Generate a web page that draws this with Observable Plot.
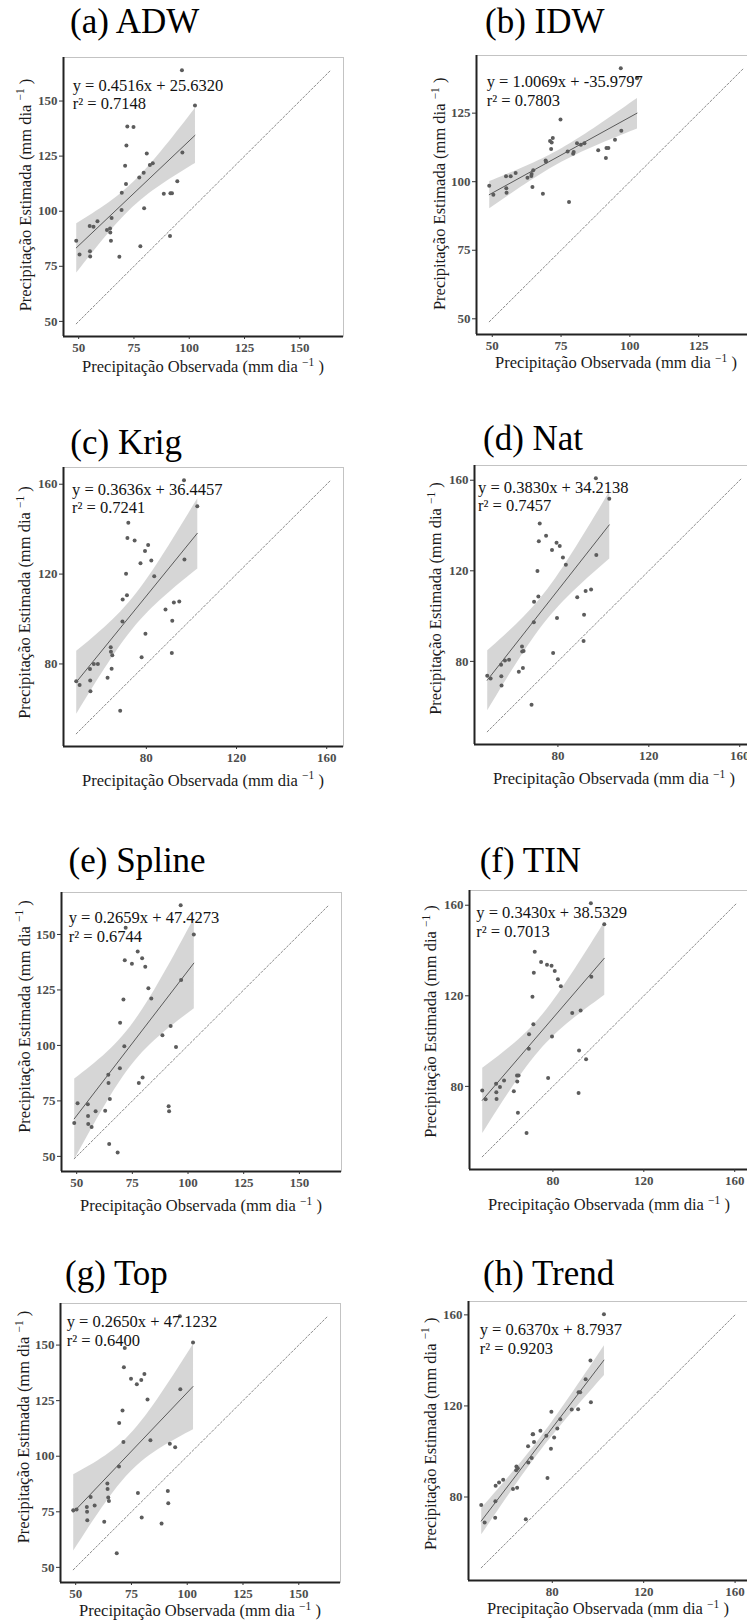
<!DOCTYPE html>
<html><head><meta charset="utf-8">
<script src="https://cdn.jsdelivr.net/npm/d3@7"></script>
<script src="https://cdn.jsdelivr.net/npm/@observablehq/plot@0.6"></script>
<style>
html,body{margin:0;padding:0;background:#fff;}
#wrap{position:relative;width:747px;height:1624px;overflow:hidden;background:#fff;}
.panel{position:absolute;}
.panel svg{overflow:visible;max-width:none;font-family:"Liberation Serif","Times New Roman",serif;}
.panel svg g[aria-label="x-axis tick label"],
.panel svg g[aria-label="y-axis tick label"]{font-size:13px;font-weight:bold;font-family:"Liberation Serif","Times New Roman",serif;}
.panel svg text.ann{font-family:"Liberation Serif","Times New Roman",serif;text-anchor:start;white-space:pre;}
.panel svg text.lab{font-family:"Liberation Serif","Times New Roman",serif;text-anchor:middle;white-space:pre;}
</style></head><body><div id="wrap"></div>
<script>
// Observed precipitation (shared by all panels)
const obs = [48.9, 50.4, 55.0, 55.1, 55.2, 56.7, 58.5, 62.8, 64.2, 64.3, 64.6, 64.9, 68.4, 69.4, 69.5, 71.0, 71.4, 71.6, 72.0, 74.8, 77.4, 77.9, 79.4, 79.6, 80.8, 82.2, 83.5, 88.5, 91.3, 91.5, 92.2, 94.6, 96.7, 96.9, 102.6];
// Estimated precipitation per method
const estADW = [86.6, 80.3, 93.3, 81.8, 79.4, 93.0, 95.4, 91.5, 92.1, 90.3, 86.6, 96.9, 79.3, 100.5, 108.4, 120.6, 112.4, 129.8, 138.4, 138.2, 115.3, 84.1, 117.4, 101.3, 126.2, 121.0, 121.8, 107.9, 88.8, 108.1, 108.1, 113.6, 164.0, 126.6, 148.0];
const estIDW = [98.5, 95.2, 102.0, 97.6, 96.0, 102.0, 103.2, 101.4, 102.1, 102.8, 98.1, 104.2, 95.6, 107.7, 107.3, 114.8, 111.9, 114.3, 115.9, 122.7, 111.0, 92.6, 110.2, 110.8, 114.0, 113.5, 114.0, 111.5, 108.6, 112.3, 112.3, 115.3, 141.4, 118.6, 137.7];
const estKrig = [72.3, 70.6, 77.8, 72.6, 67.8, 80.0, 80.0, 73.9, 87.4, 85.4, 77.9, 83.9, 59.2, 98.9, 108.7, 120.1, 110.6, 136.1, 142.8, 134.9, 124.8, 83.0, 130.3, 93.4, 132.9, 126.0, 119.0, 104.2, 84.9, 99.2, 107.4, 107.8, 161.8, 126.5, 150.2];
const estNat = [73.7, 72.4, 78.5, 73.4, 69.3, 80.4, 80.7, 75.4, 86.6, 84.4, 77.1, 84.6, 60.8, 97.3, 106.3, 119.9, 108.6, 133.1, 140.9, 135.5, 129.2, 83.7, 132.4, 99.2, 130.9, 125.9, 122.7, 108.3, 89.0, 100.6, 111.1, 111.7, 160.9, 127.0, 151.8];
const estSpline = [65.0, 73.9, 73.5, 68.2, 64.6, 63.2, 70.3, 70.6, 86.8, 83.1, 55.6, 75.9, 51.7, 89.7, 110.2, 120.7, 99.6, 138.4, 153.0, 136.8, 142.3, 83.1, 139.3, 85.5, 135.4, 125.8, 121.1, 104.6, 72.6, 70.3, 108.8, 99.3, 163.2, 129.5, 150.0];
const estTIN = [78.2, 74.3, 81.2, 77.4, 74.4, 79.7, 82.6, 77.8, 84.8, 82.2, 68.4, 84.8, 59.4, 96.6, 103.0, 119.6, 107.4, 130.2, 139.4, 134.9, 133.7, 83.7, 133.3, 102.0, 130.9, 127.3, 124.2, 112.4, 77.1, 95.9, 113.5, 92.0, 160.9, 128.4, 151.6];
const estTop = [75.7, 76.0, 77.2, 75.0, 71.2, 81.7, 77.8, 70.5, 87.7, 85.3, 81.4, 79.9, 56.3, 95.4, 114.9, 120.6, 106.4, 140.0, 148.7, 134.9, 132.4, 83.5, 134.3, 72.4, 137.0, 125.5, 107.2, 69.7, 84.4, 78.8, 105.6, 104.0, 163.0, 130.1, 151.2];
const estTrend = [76.5, 68.8, 70.9, 78.1, 85.0, 86.4, 87.6, 83.5, 91.7, 93.4, 84.1, 92.6, 70.2, 102.3, 95.2, 97.1, 107.6, 107.6, 104.2, 109.1, 106.9, 88.3, 101.2, 117.5, 106.1, 110.1, 114.2, 118.4, 118.5, 126.0, 126.0, 131.7, 140.0, 121.6, 160.3];

const titles = ["(a) ADW", "(b) IDW", "(c) Krig", "(d) Nat", "(e) Spline", "(f) TIN", "(g) Top", "(h) Trend"];
const equations = ["y = 0.4516x + 25.6320", "y = 1.0069x + -35.9797", "y = 0.3636x + 36.4457", "y = 0.3830x + 34.2138", "y = 0.2659x + 47.4273", "y = 0.3430x + 38.5329", "y = 0.2650x + 47.1232", "y = 0.6370x + 8.7937"];
const r2 = ["r² = 0.7148", "r² = 0.7803", "r² = 0.7241", "r² = 0.7457", "r² = 0.6744", "r² = 0.7013", "r² = 0.6400", "r² = 0.9203"];
const ticksA = [50, 75, 100, 125, 150];
const ticksB = [80, 120, 160];
const xLabel = "Precipitação Observada";
const yLabel = "Precipitação Estimada";

const series = [estADW, estIDW, estKrig, estNat, estSpline, estTIN, estTop, estTrend];
const tickSets = [ticksA, ticksA, ticksB, ticksB, ticksA, ticksB, ticksA, ticksB];

// layout (page px): frame left/top, title x/baseline, equation offsets, label offsets
const layout = [
  {fl: 63,    ft: 57,     tx: 70,    tb: 33,    ex: 9.7,  eb: 33.7, xl: 36,   yl: -32.3, ys: -1.5},
  {fl: 476,   ft: 55,     tx: 485,   tb: 33.3,  ex: 10.7, eb: 32.3, xl: 34,   yl: -31,   ys: -0.7},
  {fl: 62.7,  ft: 466.7,  tx: 70,    tb: 453.3, ex: 9,    eb: 27.7, xl: 39.5, yl: -32.7, ys: -4},
  {fl: 474.3, ft: 465,    tx: 483.3, tb: 450,   ex: 4,    eb: 27.7, xl: 40,   yl: -32.6, ys: -6},
  {fl: 60.7,  ft: 891.7,  tx: 68.3,  tb: 871.7, ex: 7.7,  eb: 31,   xl: 40,   yl: -31.4, ys: -15},
  {fl: 469.3, ft: 890,    tx: 480,   tb: 871.7, ex: 7.3,  eb: 28.3, xl: 41,   yl: -32.6, ys: -8},
  {fl: 60,    ft: 1302.7, tx: 65,    tb: 1285,  ex: 6.7,  eb: 24,   xl: 34,   yl: -30.7, ys: -15.5},
  {fl: 468.3, ft: 1300.7, tx: 483.3, tb: 1285,  ex: 11.7, eb: 34.3, xl: 34,   yl: -32.3, ys: -6.7}
];

const ML = 60, MR = 10, MT = 55, MB = 50, FW = 280, FH = 279;
const FONT = "Liberation Serif, Times New Roman, serif";
const wrap = document.getElementById("wrap");

series.forEach((est, i) => {
  const L = layout[i];
  const rows = obs.map((o, j) => ({obs: o, est: est[j]}));
  const all = obs.concat(est);
  const lo = d3.min(all), hi = d3.max(all), pad = (hi - lo) * 0.05;
  const dom = [lo - pad, hi + pad];
  const tk = tickSets[i].filter(t => t >= dom[0] && t <= dom[1]);

  const plot = Plot.plot({
    width: ML + FW + MR,
    height: MT + FH + MB,
    marginLeft: ML, marginRight: MR, marginTop: MT, marginBottom: MB,
    style: {fontFamily: FONT, fontSize: "12px", background: "transparent", maxWidth: "none", overflow: "visible"},
    x: {domain: dom, label: null},
    y: {domain: dom, label: null},
    marks: [
      Plot.frame({stroke: "#b5b5b5", strokeWidth: 0.8}),
      Plot.line([lo, hi], {x: d => d, y: d => d, stroke: "#555", strokeWidth: 0.7, strokeDasharray: "2,2"}),
      Plot.linearRegressionY(rows, {x: "obs", y: "est", stroke: "#3a3a3a", strokeWidth: 0.8, fill: "#999", fillOpacity: 0.4}),
      Plot.dot(rows, {x: "obs", y: "est", r: 2, fill: "#5c5c5c", stroke: "none"}),
      Plot.ruleX([dom[0]], {stroke: "#222", strokeWidth: 2}),
      Plot.ruleY([dom[0]], {stroke: "#222", strokeWidth: 2}),
      Plot.axisX({ticks: tk, tickSize: 3, tickPadding: 3, fontSize: 13, fontWeight: "bold", fill: "#4d4d4d", stroke: "#333", label: null}),
      Plot.axisY({ticks: tk, tickSize: 4, tickPadding: 2, fontSize: 13, fontWeight: "bold", fill: "#4d4d4d", stroke: "#333", label: null})
    ]
  });

  const svg = d3.select(plot);
  // Title
  svg.append("text").attr("class", "ann")
    .attr("text-anchor", "start")
    .attr("x", ML + (L.tx - L.fl)).attr("y", MT - (L.ft - L.tb))
    .attr("font-size", 35).attr("fill", "#000")
    .text(titles[i]);
  // Equation
  const eq = svg.append("text").attr("class", "ann").attr("text-anchor", "start")
    .attr("font-size", 16.5).attr("fill", "#111");
  eq.append("tspan").attr("x", ML + L.ex).attr("y", MT + L.eb).text(equations[i]);
  eq.append("tspan").attr("x", ML + L.ex).attr("y", MT + L.eb + 18.5).text(r2[i]);
  // Axis labels with superscript
  function addLabel(x, y, main, rot) {
    const t = svg.append("text").attr("class", "lab")
      .attr("text-anchor", "middle").attr("font-size", 16.5).attr("fill", "#1a1a1a")
      .attr("transform", rot ? `translate(${x},${y}) rotate(-90)` : `translate(${x},${y})`);
    t.append("tspan").text(main + " (mm dia ");
    t.append("tspan").attr("font-size", 11.5).attr("dy", -6.5).text("−1");
    t.append("tspan").attr("dy", 6.5).text(" )");
  }
  addLabel(ML + FW / 2, MT + FH + L.xl, xLabel, false);
  addLabel(ML + L.yl, MT + FH / 2 + L.ys, yLabel, true);

  const div = document.createElement("div");
  div.className = "panel";
  div.style.left = (L.fl - ML) + "px";
  div.style.top = (L.ft - MT) + "px";
  div.style.width = (ML + FW + MR) + "px";
  div.appendChild(plot);
  wrap.appendChild(div);
});
</script>
</body></html>
